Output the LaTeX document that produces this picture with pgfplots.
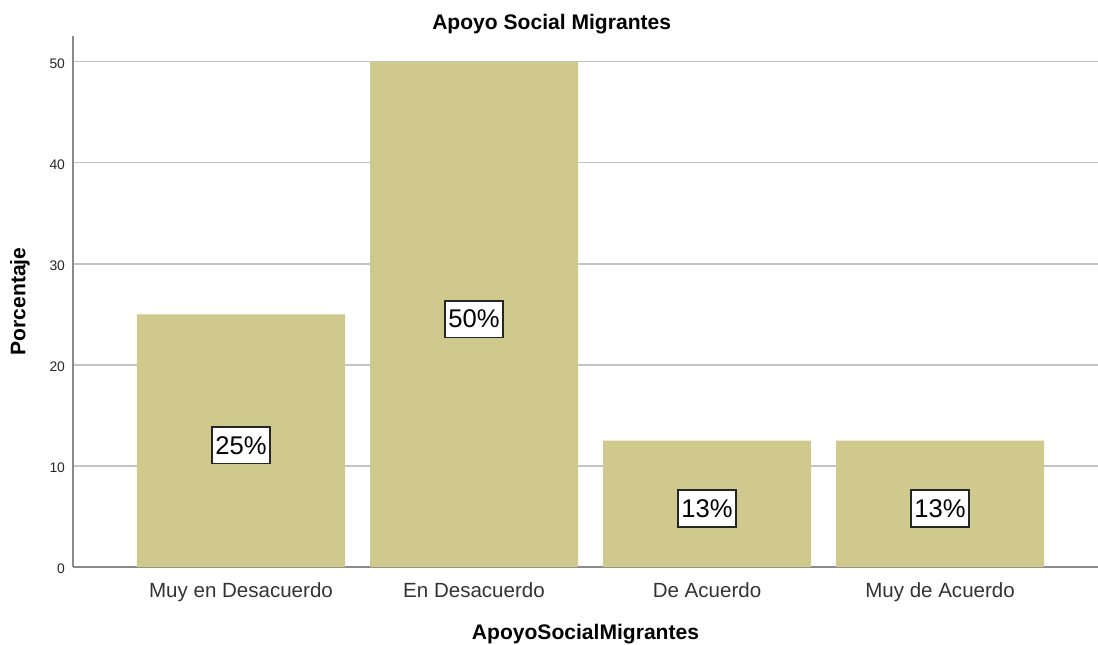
\documentclass[border=0pt]{standalone}
\usepackage{pgfplots}
\pgfplotsset{compat=1.18}
\usepackage{fontspec}
\setmainfont{Liberation Sans}
\definecolor{barcol}{HTML}{CFC98E}
\definecolor{gridcol}{HTML}{C4C4C4}
\definecolor{axcol}{HTML}{8A8A8A}
\begin{document}
\begin{tikzpicture}
\path[use as bounding box] (-54.75pt,-57.75pt) rectangle (768.75pt,425.25pt);
\begin{axis}[
  at={(0,0)}, anchor=south west,
  scale only axis,
  width=768.75pt, height=398.25pt,
  xmin=-0.721, xmax=3.678,
  ymin=0, ymax=52.57,
  axis x line*=bottom, axis y line*=left,
  axis line style={axcol, line width=0.9pt, -},
  xtick={0,1,2,3},
  xticklabels={Muy en Desacuerdo, En Desacuerdo, De Acuerdo, Muy de Acuerdo},
  ytick={0,10,20,30,40,50},
  major tick length=0pt,
  ymajorgrids,
  grid style={gridcol, line width=0.8pt},
  /pgf/number format/assume math mode=true,
  yticklabel style={font=\fontsize{10.4pt}{12pt}\selectfont, color=black!85, xshift=-2.5pt, yshift=-1.5pt},
  xticklabel style={font=\fontsize{15.4pt}{18pt}\selectfont, color=black!80, yshift=-8.5pt},
  xlabel={ApoyoSocialMigrantes},
  ylabel={Porcentaje},
  xlabel style={font=\bfseries\fontsize{15.8pt}{18pt}\selectfont, at={(axis description cs:0.5,0)}, anchor=center, yshift=-50.25pt},
  ylabel style={font=\bfseries\fontsize{15.8pt}{18pt}\selectfont, at={(axis description cs:-0.0517,0.5)}, anchor=center},
  title={Apoyo Social Migrantes},
  title style={font=\bfseries\fontsize{15.8pt}{18pt}\selectfont, at={(axis description cs:0.467,1.0076)}, anchor=center},
  bar width=156pt,
  clip=false,
]
\addplot[ybar, bar shift=0pt, fill=barcol, draw=none] coordinates {(0,25) (1,50) (2,12.5) (3,12.5)};
\addplot[draw=none, mark=none, nodes near coords, point meta=explicit symbolic,
  nodes near coords style={anchor=center, yshift=-3.5pt, fill=white, draw=black!85, line width=1.1pt, inner xsep=2.6pt, inner ysep=0pt, minimum height=27.5pt, font=\fontsize{19.2pt}{21pt}\selectfont}]
  coordinates {(0,12.5) [25\%] (1,25) [50\%] (2,6.25) [13\%] (3,6.25) [13\%]};
\end{axis}
\end{tikzpicture}
\end{document}
